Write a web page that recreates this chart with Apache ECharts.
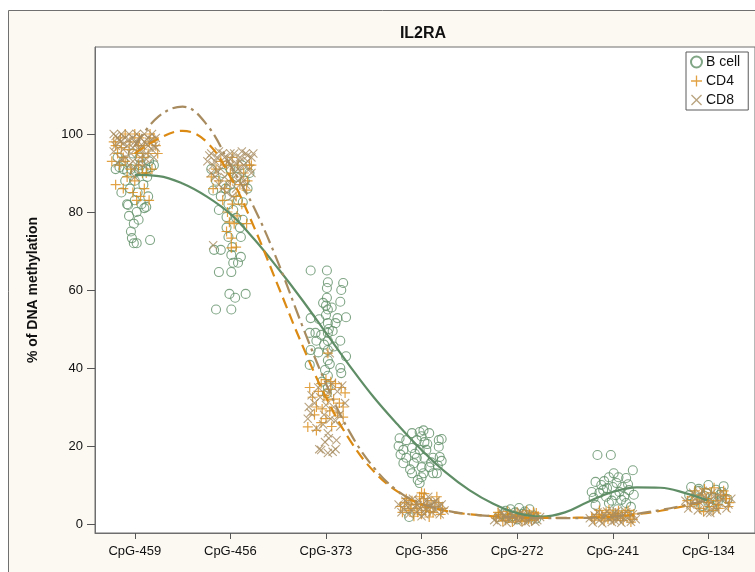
<!DOCTYPE html>
<html>
<head>
<meta charset="utf-8">
<script src="https://cdn.jsdelivr.net/npm/echarts@6/dist/echarts.min.js"></script>
<style>
html, body { margin: 0; padding: 0; background: #ffffff; }
#chart { width: 755px; height: 572px; }
</style>
</head>
<body>
<div id="chart"></div>
<script>
// CpG sites along the x axis
const sites = ['CpG-459', 'CpG-456', 'CpG-373', 'CpG-356', 'CpG-272', 'CpG-241', 'CpG-134'];
const yTicks = [0, 20, 40, 60, 80, 100];
const groups = ['B cell', 'CD4', 'CD8'];

// Individual measurements per site: [horizontal jitter, % methylation]
const bcellPoints = [
  [[-0.20,91],[-0.16,91.5],[-0.12,91],[-0.08,90.5],[-0.04,91],[0.0,90],[0.04,91],[0.08,90.5],[0.12,91],[0.17,91.5],[0.20,92],
   [-0.18,94],[-0.02,95],[0.05,94],[0.15,93],[-0.10,88],[-0.05,86],[0.03,85],[0.09,87],[0.13,89],[-0.14,85],[-0.08,82],
   [0.0,83],[0.07,82],[0.14,84],[-0.06,79],[0.02,80],[0.10,81],[-0.01,77],[0.04,78],[-0.04,75],[-0.03,73.3],[0.02,72],
   [0.16,72.8],[-0.01,72],[0.0,88],[0.06,92],[-0.12,93],[-0.07,81.8],[0.12,81.3]],
  [[-0.18,85.5],[-0.12,80.5],[0.03,80.5],[0.13,82.5],[-0.04,78.7],[0.06,78.5],[0.13,78],[-0.04,76],[0.10,76],[-0.02,73.6],
   [0.11,73.6],[-0.17,70.3],[-0.10,70.3],[0.02,71],[0.01,69],[0.11,68.5],[0.03,67],[0.08,67],[-0.12,64.6],[0.01,64.6],
   [-0.01,59],[0.05,58],[0.16,59],[-0.15,55],[0.01,55],[-0.15,88],[-0.08,90],[0.0,91],[0.07,89],[0.15,88],[-0.05,86],
   [0.04,85],[0.18,86],[-0.10,84],[0.08,83],[0.20,90],[-0.20,91],[0.0,87],[0.12,92],[-0.02,82]],
  [[-0.16,65],[0.01,65],[0.02,62],[0.01,60.5],[0.18,61.8],[0.16,60],[0.15,57],[0.01,58],[-0.03,56.7],[0.02,55],[0.0,53.6],
   [-0.16,52.8],[0.12,52.8],[0.21,53],[0.02,51.5],[0.10,51.5],[-0.17,49],[-0.11,49],[-0.05,48.5],[0.02,49],[0.07,49.5],
   [0.15,47],[0.02,47],[-0.10,47],[-0.16,44.6],[-0.08,44],[0.21,43],[0.02,44.6],[0.02,42],[0.15,40],[-0.01,39.5],[0.02,38],
   [0.16,38.7],[-0.17,40.8],[0.02,35],[0.0,56],[0.03,50],[-0.02,46],[0.04,41],[-0.04,36.5],[0.01,33.5],[0.06,55.5],
   [-0.07,52.5],[0.08,45.5]],
  [[-0.10,23.3],[-0.02,23.6],[0.02,24],[0.08,23.3],[0.18,21.5],[-0.16,21.5],[-0.05,21.5],[0.03,21],[-0.19,19],[-0.10,19.5],
   [-0.02,19],[0.05,19],[0.18,19.8],[-0.16,17],[-0.05,17],[0.03,17],[0.12,17],[0.19,17.2],[-0.19,15.6],[-0.08,15.6],
   [0.0,14.6],[0.08,14.6],[0.17,15],[-0.10,13],[0.02,13],[0.12,13],[0.16,13],[-0.04,11.3],[-0.02,10.5],[-0.13,1.8],
   [-0.23,22],[-0.24,20],[0.21,21.8],[0.21,16.2],[-0.22,17.8],[0.0,22.5],[0.06,20.5],[-0.07,18],[0.10,15.8],[-0.12,14],[0.0,12]],
  [[-0.07,3.8],[0.02,4.1],[0.13,3.8],[-0.15,2.5],[-0.04,2],[0.06,2.6],[0.17,2.2],[-0.10,1.5],[0.0,1.2],[0.10,1.6],
   [-0.20,1.8],[0.20,1.4],[-0.02,3],[0.08,3.2],[-0.12,3.4]],
  [[-0.16,17.7],[-0.02,17.7],[0.21,13.8],[-0.18,10.8],[-0.04,12],[0.06,12],[0.14,11.8],[-0.10,8.7],[0.0,9.5],[0.10,9.5],
   [0.17,8.7],[-0.20,6.7],[-0.07,7],[0.03,7.4],[0.12,7],[-0.18,4.9],[-0.04,5.4],[0.14,5.4],[0.19,4.4],[-0.12,10],[0.04,10.5],
   [-0.14,8],[0.07,8.2],[-0.01,6],[0.09,6.2],[-0.09,11],[0.01,13],[0.16,10.2],[-0.06,9.2],[0.05,3.8],[-0.22,8.2],[0.22,7.5]],
  [[-0.18,9.5],[0.0,10],[0.16,9.7],[-0.20,7.4],[-0.10,8.5],[0.08,8.8],[-0.04,7.2],[0.05,6.8],[0.12,7.5],[-0.14,6],[0.0,5.5],
   [0.10,5.8],[0.20,6.4],[-0.06,4.6],[0.04,4.3],[-0.10,9],[0.14,8.2],[-0.02,8]]
];

const cd4Points = [
  [[-0.20,97],[-0.15,99],[-0.10,100],[-0.05,98],[0.0,100],[0.05,99],[0.10,97],[0.15,98],[0.20,99],[-0.18,95],[-0.12,94],
   [-0.06,96],[0.02,95],[0.08,94],[0.14,95],[-0.16,92],[-0.04,91],[0.04,92],[0.12,90],[0.18,91],[-0.20,87],[-0.08,89],
   [0.0,88],[0.10,86],[-0.02,85],[0.06,84],[0.02,83],[0.15,83],[-0.10,93],[0.04,97],[-0.22,98],[0.22,97],[-0.14,96.5],
   [0.16,100],[-0.24,93],[0.24,95],[0.08,90],[-0.12,86]],
  [[-0.18,86],[-0.06,86],[0.17,85.6],[-0.20,89],[0.06,84],[-0.01,77.4],[0.04,77],[0.17,77],[-0.04,75],[0.01,70.8],[0.06,71],
   [0.01,73.3],[-0.15,91],[-0.10,93],[-0.04,92],[0.02,94],[0.08,92],[0.14,90],[0.20,92],[-0.12,88],[0.0,88],[0.10,87],
   [-0.08,83],[0.02,82],[0.12,82],[-0.03,80],[0.07,79],[0.22,92],[0.0,90],[0.18,88]],
  [[-0.17,35],[-0.05,36],[0.16,35],[0.05,36.5],[-0.10,30],[0.18,30],[-0.19,24.9],[-0.10,24],[-0.05,26],[0.18,27.4],[0.20,33.6],
   [0.02,31.8],[0.04,29],[-0.14,32.5],[-0.02,33],[0.08,32],[0.12,28.5],[0.0,27],[-0.08,34],[0.06,25],[0.10,36],[-0.12,28],
   [0.0,37],[0.02,43.8],[0.14,31],[-0.04,29.5],[0.05,34.5]],
  [[-0.22,4.5],[-0.18,5.5],[-0.14,4],[-0.10,6],[-0.06,5],[-0.02,7],[0.02,6.5],[0.06,5],[0.10,6],[0.14,4.5],[0.18,5.5],
   [0.22,4],[-0.20,3],[-0.12,3.5],[-0.04,3],[0.04,3.5],[0.12,3],[0.20,2.5],[-0.08,2],[0.0,2.5],[0.08,1.8],[-0.16,6.5],
   [0.16,7],[0.0,8],[0.03,7.8],[-0.05,4],[0.05,4.2],[-0.01,5.2],[0.09,3.2],[-0.11,5.1]],
  [[-0.22,1.5],[-0.17,2],[-0.12,1],[-0.07,2.5],[-0.02,1.5],[0.03,2],[0.08,1],[0.13,2.5],[0.18,1.5],[0.22,2],[-0.20,3],
   [-0.10,3.2],[0.0,3],[0.10,3.4],[0.20,2.8],[-0.15,0.8],[-0.05,0.5],[0.05,0.7],[0.15,0.9],[-0.01,1.8],[0.06,2.2],
   [-0.09,1.7],[0.12,1.3],[-0.19,2.4],[0.17,3]],
  [[-0.22,1.8],[-0.17,2.5],[-0.12,1.5],[-0.07,3],[-0.02,2],[0.03,2.8],[0.08,1.5],[0.13,3],[0.18,2],[0.22,2.6],[-0.19,1],
   [-0.09,0.8],[0.01,1],[0.11,0.9],[0.21,1.2],[-0.14,3.5],[-0.04,3.6],[0.06,3.4],[0.16,3.5],[0.0,2.4],[0.05,1.9],
   [-0.05,1.3],[0.10,2.2],[-0.11,2.2],[0.19,0.5]],
  [[-0.22,6],[-0.17,7],[-0.12,5.5],[-0.07,7.5],[-0.02,6.5],[0.03,8],[0.08,6],[0.13,7.5],[0.18,6.5],[0.22,5.5],[-0.19,4.5],
   [-0.09,4],[0.01,4.5],[0.11,4],[0.21,4.5],[-0.14,8.5],[-0.04,9],[0.06,9.3],[0.16,8.5],[0.0,5.5],[0.05,3.5],[-0.05,3.2],
   [0.10,5],[-0.11,6.2],[0.19,7.2]]
];

const cd8Points = [
  [[-0.22,100],[-0.18,99],[-0.14,100],[-0.10,99],[-0.06,100],[-0.02,99],[0.02,100],[0.06,99],[0.10,100],[0.14,99],[0.18,100],
   [0.22,99],[-0.20,97],[-0.15,98],[-0.08,97],[0.0,98],[0.08,97],[0.15,98],[0.20,97],[-0.12,96],[-0.04,95],[0.04,96],
   [0.12,95],[0.18,96],[-0.02,93],[0.06,94],[0.10,92],[-0.10,94],[0.0,91],[0.0,89],[-0.20,99.5],[-0.16,98.5],[-0.12,97.5],
   [-0.06,98.5],[-0.02,96.5],[0.02,97.5],[0.06,96],[0.10,98],[0.14,97],[0.18,98.5],[0.22,96.5],[-0.22,95.5],[-0.14,93.5],
   [0.12,93.5],[0.20,94],[-0.06,92],[0.04,92.5],[-0.18,92.5]],
  [[-0.20,95],[-0.14,94],[-0.08,95],[-0.02,93],[0.04,95],[0.10,94],[0.16,95],[0.22,94],[-0.18,92],[-0.10,91],[0.0,92],
   [0.08,91],[0.14,92],[0.20,91],[-0.16,89],[-0.06,89],[0.04,90],[0.12,89],[-0.12,87],[-0.02,87],[0.06,86],[0.14,88],
   [-0.04,85],[0.02,84],[0.10,93],[-0.18,71.5],[0.18,93],[-0.24,93],[0.24,95],[0.0,95],[-0.22,94.5],[-0.16,93],[-0.12,95.5],
   [-0.06,94],[0.0,93.5],[0.06,92.5],[0.12,95.5],[0.18,94.5],[-0.20,90],[-0.08,92.5],[0.10,90.5],[0.22,90],[-0.14,90.5],
   [0.02,88.5],[0.16,87],[-0.08,86],[0.08,88]],
  [[-0.16,28.5],[-0.19,27],[-0.10,24.6],[0.02,23.3],[-0.05,19],[0.02,18.2],[0.07,18.5],[-0.01,21],[0.15,25],[0.20,31],
   [0.02,33.6],[0.04,43.8],[-0.07,19.2],[0.10,19.2],[-0.12,31],[-0.06,32.5],[0.08,30],[0.12,34],[-0.02,28],[0.05,27],
   [0.10,26.5],[-0.15,33],[0.0,30.5],[-0.08,35],[0.06,36],[0.14,28],[-0.03,25.5],[0.03,22],[0.17,35.5],[-0.18,30],[0.11,21.5]],
  [[-0.24,5],[-0.19,4],[-0.15,5.5],[-0.11,3.5],[-0.07,4.5],[-0.03,6],[0.01,5],[0.05,6],[0.09,4.5],[0.13,5.5],[0.17,4],
   [0.21,5],[0.24,3.5],[-0.21,3],[-0.13,2.5],[-0.05,3],[0.03,2.5],[0.11,3],[0.19,2.5],[-0.09,6.5],[0.07,7],[-0.01,4],
   [0.15,6],[-0.17,6],[0.0,2],[0.04,3.8],[-0.04,4.8],[0.10,5.2],[-0.14,4.3],[0.18,4.6]],
  [[-0.24,1],[-0.19,1.8],[-0.14,2.3],[-0.09,1.2],[-0.04,2],[0.01,1],[0.06,2.5],[0.11,1.5],[0.16,2],[0.21,1],[0.24,1.8],
   [-0.21,0.5],[-0.11,0.3],[0.0,0.6],[0.09,0.4],[0.19,0.6],[-0.16,3],[-0.06,2.8],[0.04,3],[0.14,2.6],[-0.01,1.5],[0.07,1.7],
   [-0.12,1.6],[0.02,2.2],[0.12,0.8]],
  [[-0.24,1.5],[-0.19,2.2],[-0.14,1],[-0.09,2.5],[-0.04,1.5],[0.01,2.8],[0.06,1.2],[0.11,2.4],[0.16,1.6],[0.21,2.5],
   [0.24,1.2],[-0.21,0.4],[-0.11,0.2],[-0.01,0.5],[0.09,0.3],[0.19,0.6],[-0.16,3],[-0.06,3.2],[0.04,3.3],[0.14,3],[0.0,1.8],
   [0.07,2],[-0.08,1.9],[0.12,1.4],[0.02,0.9]],
  [[-0.24,6],[-0.19,5],[-0.14,6.5],[-0.09,5.5],[-0.04,7],[0.01,6],[0.06,7],[0.11,5.5],[0.16,6.5],[0.21,5],[0.24,6.5],
   [-0.21,4],[-0.11,3.5],[-0.01,3],[0.09,3.5],[0.19,4],[-0.16,8],[-0.06,8.5],[0.04,8],[0.14,8.2],[0.0,4.8],[0.07,4.5],
   [-0.08,7.6],[0.12,6.8],[0.02,2.8]]
];

// Smoothed trend per group: [site position, % methylation]
const bcellFit = [[1,89.5],[1.25,89.2],[1.5,87.3],[1.75,84],[2,79.5],[2.25,73],[2.5,65.5],[2.75,57.5],[3,49],[3.25,40.5],
  [3.5,32.5],[3.75,25.5],[4,19],[4.25,13.3],[4.5,8.7],[4.75,5.2],[5,2.8],[5.25,1.9],[5.5,3],[5.75,5.8],[6,8.2],
  [6.25,9.4],[6.5,9.3],[6.75,8],[7,6]];
const cd4Fit = [[1,95],[1.25,98.8],[1.5,100.8],[1.75,98],[2,89],[2.25,76],[2.5,61],[2.75,46],[3,32.5],[3.25,21.5],
  [3.5,13.5],[3.75,8.3],[4,5],[4.25,3.4],[4.5,2.5],[4.75,2],[5,1.7],[5.25,1.6],[5.5,1.6],[5.75,1.7],[6,1.9],
  [6.25,2.5],[6.5,3.4],[6.75,4.6],[7,6]];
const cd8Fit = [[1,97],[1.25,104.5],[1.5,107],[1.75,102.5],[2,92],[2.25,81],[2.5,67],[2.75,51],[3,36],[3.25,23.5],
  [3.5,14.5],[3.75,8.5],[4,5.2],[4.25,3.5],[4.5,2.5],[4.75,2],[5,1.7],[5.25,1.5],[5.5,1.5],[5.75,1.6],[6,1.9],
  [6.25,2.6],[6.5,3.6],[6.75,4.8],[7,6.1]];

const GREEN = '#5f8e66';
const ORANGE = '#db8b14';
const TAN = '#a88c60';
const FONT = '"Liberation Sans", Arial, sans-serif';
// marker outlines drawn as thin filled polygons in a 10x10 box
const PLUS = 'path://M4.4,0H5.6V4.4H10V5.6H5.6V10H4.4V5.6H0V4.4H4.4Z';
const CROSS = 'path://M0,0.85L0.85,0L5,4.15L9.15,0L10,0.85L5.85,5L10,9.15L9.15,10L5,5.85L0.85,10L0,9.15L4.15,5Z';

function place(bySite) {
  const out = [];
  bySite.forEach((pts, i) => pts.forEach(p => out.push([i + 1 + p[0], p[1]])));
  return out;
}

const chart = echarts.init(document.getElementById('chart'), null, { renderer: 'canvas' });

chart.setOption({
  animation: false,
  backgroundColor: '#ffffff',
  graphic: [{
    type: 'rect', z: -100, silent: true,
    shape: { x: 8.5, y: 10.5, width: 770, height: 580 },
    style: { fill: '#fcf9f3', stroke: '#707070', lineWidth: 1 }
  }],
  title: {
    text: 'IL2RA', left: 418, top: 21, textAlign: 'center',
    textStyle: { fontFamily: FONT, fontSize: 16, fontWeight: 'bold', color: '#111' }
  },
  grid: {
    left: 95, top: 47, width: 664, height: 486,
    show: true, backgroundColor: '#ffffff', borderColor: '#6e6e6e', borderWidth: 1,
    containLabel: false
  },
  legend: {
    data: groups, orient: 'vertical', left: 686, top: 52,
    backgroundColor: '#ffffff', borderColor: '#5a5a5a', borderWidth: 1,
    padding: [3, 8, 3, 4], itemGap: 5, itemWidth: 11, itemHeight: 11,
    textStyle: { fontFamily: FONT, fontSize: 14, color: '#111', padding: [0, 0, 0, -1] }
  },
  xAxis: {
    type: 'value', min: 0.584, max: 7.488,
    splitLine: { show: false },
    axisLine: { show: true, onZero: false, lineStyle: { color: '#6e6e6e' } },
    axisTick: { show: true, length: 6, customValues: [1, 2, 3, 4, 5, 6, 7], lineStyle: { color: '#555' } },
    axisLabel: {
      customValues: [1, 2, 3, 4, 5, 6, 7], margin: 12,
      formatter: v => sites[Math.round(v) - 1],
      fontFamily: FONT, fontSize: 13, color: '#111'
    }
  },
  yAxis: {
    type: 'value', min: -2.3, max: 122.3,
    name: '% of DNA methylation', nameLocation: 'middle', nameRotate: 90, nameGap: 55,
    nameTextStyle: { fontFamily: FONT, fontSize: 14, fontWeight: 'bold', color: '#111' },
    splitLine: { show: false },
    axisLine: { show: true, lineStyle: { color: '#6e6e6e' } },
    axisTick: { show: true, length: 8, customValues: yTicks, lineStyle: { color: '#555' } },
    axisLabel: { customValues: yTicks, margin: 12, fontFamily: FONT, fontSize: 13, color: '#111' }
  },
  series: [
    {
      name: 'B cell', type: 'scatter', data: place(bcellPoints),
      symbol: 'circle', symbolSize: 9,
      itemStyle: { color: 'rgba(255,255,255,0)', borderColor: GREEN, borderWidth: 1.1 }
    },
    {
      name: 'CD4', type: 'scatter', data: place(cd4Points),
      symbol: PLUS, symbolSize: 10,
      itemStyle: { color: ORANGE }
    },
    {
      name: 'CD8', type: 'scatter', data: place(cd8Points),
      symbol: CROSS, symbolSize: 9,
      itemStyle: { color: TAN }
    },
    {
      name: 'B cell fit', type: 'line', data: bcellFit, smooth: 0.4, showSymbol: false, z: 5,
      lineStyle: { color: GREEN, width: 2.2 }
    },
    {
      name: 'CD4 fit', type: 'line', data: cd4Fit, smooth: 0.4, showSymbol: false, z: 5,
      lineStyle: { color: ORANGE, width: 2.2, type: [11, 6] }
    },
    {
      name: 'CD8 fit', type: 'line', data: cd8Fit, smooth: 0.4, showSymbol: false, z: 5,
      lineStyle: { color: TAN, width: 2.2, type: [14, 5, 3, 5] }
    }
  ]
});
</script>
</body>
</html>
